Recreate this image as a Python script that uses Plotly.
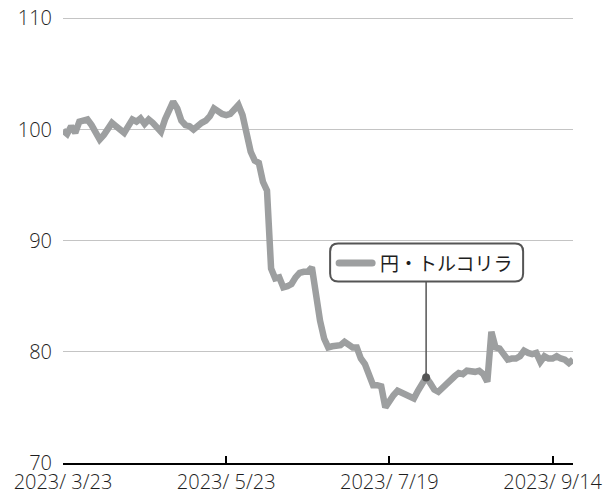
import pandas as pd
import plotly.graph_objects as go

# Japanese business days (holidays excluded) from 2023/3/23 to 2023/9/22
jp_holidays = ["2023-05-03", "2023-05-04", "2023-05-05", "2023-07-17", "2023-08-11", "2023-09-18"]
dates = pd.bdate_range(start="2023-03-23", end="2023-09-22", freq="C", holidays=jp_holidays)
categories = [d.strftime("%Y-%m-%d") for d in dates]

series_name = "円・トルコリラ"
values = [
    99.9, 99.6, 100.3, 99.7, 100.7, 100.8, 100.9, 100.4, 99.8, 99.1,
    99.5, 100.2, 100.6, 100.3, 99.9, 99.7, 100.3, 100.9, 100.7, 101.0,
    100.5, 100.9, 100.6, 100.1, 99.8, 100.9, 101.7, 102.5, 101.9, 100.8,
    100.4, 100.3, 100.0, 100.4, 100.6, 100.8, 101.2, 101.9, 101.6, 101.4,
    101.3, 101.4, 101.8, 102.2, 101.3, 99.6, 98.0, 97.2, 97.0, 95.3,
    94.5, 87.5, 86.6, 86.7, 85.8, 85.9, 86.1, 86.7, 87.1, 87.2,
    87.2, 87.6, 85.0, 82.8, 81.2, 80.4, 80.5, 80.5, 80.6, 80.9,
    80.7, 80.4, 80.4, 79.4, 78.9, 78.1, 77.0, 77.0, 76.9, 75.0,
    75.6, 76.1, 76.5, 76.3, 76.2, 76.0, 75.8, 76.5, 77.0, 77.7,
    77.2, 76.6, 76.4, 76.8, 77.1, 77.4, 77.8, 78.1, 78.0, 78.3,
    78.2, 78.2, 78.3, 78.0, 77.3, 81.8, 80.4, 80.3, 79.8, 79.3,
    79.4, 79.4, 79.6, 80.1, 79.9, 79.8, 79.9, 79.1, 79.6, 79.4,
    79.4, 79.6, 79.4, 79.3, 79.0, 79.3,
]

x_tick_idx = [0, 40, 80, 120]
x_tickvals = [categories[i] for i in x_tick_idx]
x_ticktext = [f"{dates[i].year}/{dates[i].month:>2}/{dates[i].day}" for i in x_tick_idx]
y_tickvals = [70, 80, 90, 100, 110]

label_idx = 89  # point where the series label is attached

TICK_FONT = dict(family="Open Sans, Noto Sans, sans-serif", size=20, color="#1e1e1e", weight=300)
LABEL_FONT = dict(family="Noto Sans CJK JP, sans-serif", size=19, color="#1e1e1e")
LINE_COLOR = "#9d9fa0"
DARK = "#555555"

fig = go.Figure()
fig.add_trace(go.Scatter(
    x=categories, y=values, mode="lines",
    line=dict(color=LINE_COLOR, width=6.5),
    name=series_name, showlegend=False, hoverinfo="skip",
))
fig.add_trace(go.Scatter(
    x=[categories[label_idx]], y=[values[label_idx]], mode="markers",
    marker=dict(color=DARK, size=8), showlegend=False, cliponaxis=False,
    hoverinfo="skip",
))

ax_x = categories[label_idx]
ax_y = values[label_idx]
common = dict(xref="x", yref="y", xsizemode="pixel", ysizemode="pixel",
              xanchor=ax_x, yanchor=ax_y)

# connector
fig.add_shape(type="line", x0=0, x1=0, y0=0, y1=96,
              line=dict(color=DARK, width=1.5), **common)
# rounded label box
box = ("M -88,96 L 89,96 Q 97,96 97,104 L 97,126 Q 97,134 89,134 "
       "L -88,134 Q -96,134 -96,126 L -96,104 Q -96,96 -88,96 Z")
fig.add_shape(type="path", path=box, fillcolor="white",
              line=dict(color=DARK, width=2), **common)
# legend swatch
sw = ("M -87,111 L -54,111 Q -50.5,111 -50.5,114.5 Q -50.5,118 -54,118 "
      "L -87,118 Q -90.5,118 -90.5,114.5 Q -90.5,111 -87,111 Z")
fig.add_shape(type="path", path=sw, fillcolor=LINE_COLOR,
              line=dict(width=0), **common)

fig.add_annotation(x=ax_x, y=ax_y, xref="x", yref="y", text=series_name,
                   showarrow=False, xshift=20, yshift=115, font=LABEL_FONT)

fig.update_layout(
    width=609, height=496,
    margin=dict(l=63, r=36, t=17, b=33, autoexpand=False),
    paper_bgcolor="white", plot_bgcolor="white",
    font=dict(family="Open Sans, sans-serif", size=20, color="#1e1e1e"),
    showlegend=False,
)
fig.update_xaxes(
    type="category", range=[0, len(categories) - 1], automargin=False,
    tickmode="array", tickvals=x_tickvals, ticktext=x_ticktext,
    showgrid=False, zeroline=False,
    showline=True, linecolor="black", linewidth=2,
    ticks="inside", ticklen=7, tickwidth=2, tickcolor="black",
    tickfont=TICK_FONT,
)
fig.update_yaxes(
    range=[70, 110.12], tickvals=y_tickvals, automargin=False,
    showgrid=True, gridcolor="#c4c4c4", gridwidth=1,
    zeroline=False, showline=False, ticks="",
    ticklabelstandoff=10,
    tickfont=TICK_FONT,
)

fig.write_html("out.html", config={"displayModeBar": False},
               post_script="document.body.style.margin='0';")
